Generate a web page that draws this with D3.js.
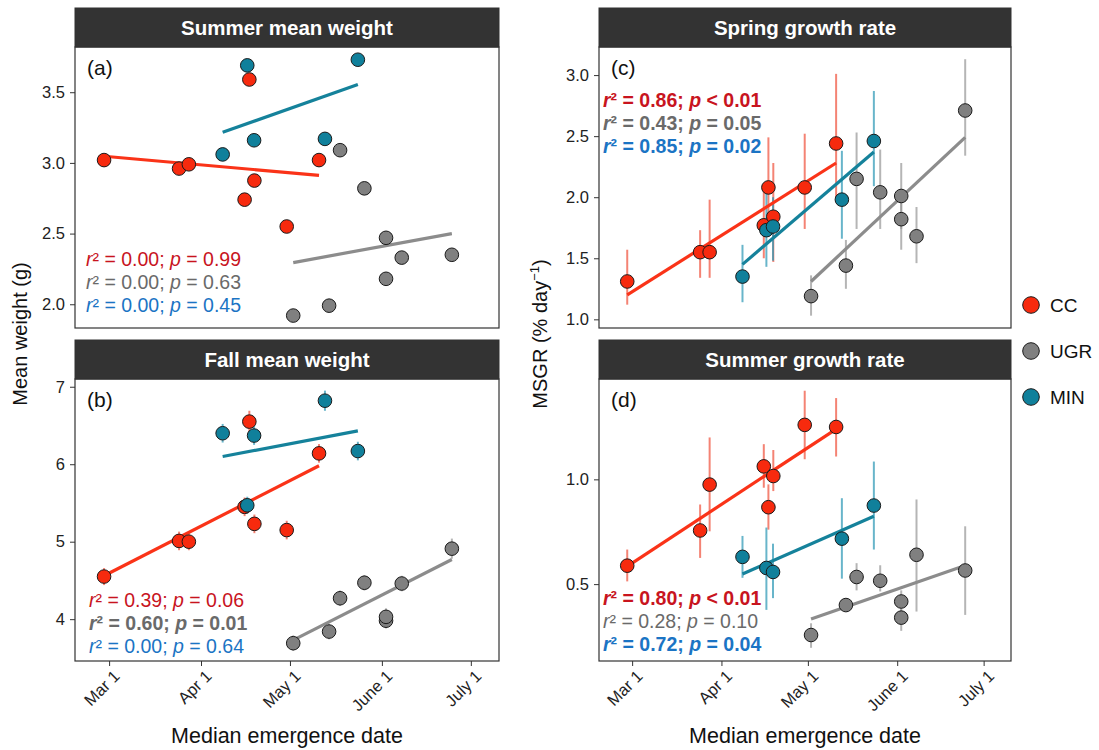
<!DOCTYPE html>
<html>
<head>
<meta charset="utf-8">
<script src="https://cdn.jsdelivr.net/npm/d3@7"></script>
<style>
  body { margin: 0; background: #fff; }
  text { font-family: "Liberation Sans", Arial, sans-serif; }
</style>
</head>
<body>
<svg id="chart" width="1099" height="750"></svg>
<script>
// Median emergence date, as day of year (Mar 1 = 60)
const ccDates  = [58.3, 83.6, 86.9, 105.7, 107.3, 109.0, 119.9, 130.8];
const ugrDates = [122.1, 134.2, 137.9, 146.1, 153.4, 153.4, 158.7, 175.6];
const minDates = [98.3, 106.6, 108.9, 132.8, 143.9];

const dateTicks  = [60, 91, 121, 152, 182];
const dateLabels = ["Mar 1", "Apr 1", "May 1", "June 1", "July 1"];

// (a) summer mean weight
const ccSummerWt  = [3.02, 2.96, 2.99, 2.74, 3.59, 2.875, 2.55, 3.02];
const ugrSummerWt = [1.92, 1.99, 3.09, 2.82, 2.47, 2.18, 2.33, 2.35];
const minSummerWt = [3.06, 3.69, 3.16, 3.17, 3.73];

// (b) fall mean weight, with +/- error
const ccFallWt   = [4.55, 5.01, 5.00, 5.45, 6.55, 5.23, 5.15, 6.14];
const ugrFallWt  = [3.69, 3.84, 4.27, 4.47, 3.98, 4.03, 4.46, 4.91];
const minFallWt  = [6.40, 5.47, 6.37, 6.82, 6.17];
const ccFallErr  = [0.11, 0.12, 0.11, 0.12, 0.14, 0.12, 0.12, 0.12];
const ugrFallErr = [0.10, 0.10, 0.10, 0.10, 0.10, 0.11, 0.10, 0.13];
const minFallErr = [0.12, 0.11, 0.12, 0.13, 0.12];

// (c) spring growth rate
const ccSpring   = [1.31, 1.55, 1.55, 1.77, 2.08, 1.84, 2.08, 2.44];
const ccSpringLo = [1.12, 1.34, 1.34, 1.50, 1.68, 1.47, 1.74, 2.00];
const ccSpringHi = [1.57, 1.73, 1.98, 2.07, 2.49, 2.28, 2.52, 3.01];
const ugrSpring   = [1.19, 1.44, 2.15, 2.04, 2.01, 1.82, 1.68, 2.71];
const ugrSpringLo = [1.03, 1.25, 1.74, 1.74, 1.74, 1.57, 1.46, 2.34];
const ugrSpringHi = [1.36, 1.65, 2.53, 2.39, 2.28, 1.98, 1.92, 3.13];
const minSpring   = [1.35, 1.73, 1.76, 1.98, 2.46];
const minSpringLo = [1.14, 1.43, 1.48, 1.66, 2.09];
const minSpringHi = [1.61, 2.04, 2.00, 2.38, 2.87];

// (d) summer growth rate
const ccSummer   = [0.588, 0.756, 0.975, 1.062, 0.867, 1.016, 1.26, 1.25];
const ccSummerLo = [0.513, 0.625, 0.752, 0.960, 0.760, 0.944, 1.096, 1.109];
const ccSummerHi = [0.665, 0.880, 1.200, 1.168, 0.976, 1.140, 1.423, 1.388];
const ugrSummer   = [0.257, 0.40, 0.534, 0.516, 0.417, 0.34, 0.64, 0.565];
const ugrSummerLo = [0.196, 0.37, 0.470, 0.465, 0.370, 0.277, 0.369, 0.353];
const ugrSummerHi = [0.313, 0.43, 0.600, 0.590, 0.470, 0.380, 0.904, 0.776];
const minSummer   = [0.63, 0.577, 0.558, 0.717, 0.875];
const minSummerLo = [0.53, 0.377, 0.433, 0.526, 0.665];
const minSummerHi = [0.73, 0.770, 0.693, 0.910, 1.085];

// fitted line values at first and last date of each site
const fitA = { CC: [3.047, 2.912], UGR: [2.295, 2.50], MIN: [3.217, 3.554] };
const fitB = { CC: [4.56, 5.98],   UGR: [3.73, 4.77],  MIN: [6.10, 6.43] };
const fitC = { CC: [1.20, 2.28],   UGR: [1.31, 2.49],  MIN: [1.45, 2.37] };
const fitD = { CC: [0.585, 1.24],  UGR: [0.334, 0.589], MIN: [0.548, 0.824] };

// r2, p and whether the line is bold
const statsA = [["0.00", "= 0.99", false], ["0.00", "= 0.63", false], ["0.00", "= 0.45", false]];
const statsB = [["0.39", "= 0.06", false], ["0.60", "= 0.01", true],  ["0.00", "= 0.64", false]];
const statsC = [["0.86", "< 0.01", true],  ["0.43", "= 0.05", true],  ["0.85", "= 0.02", true]];
const statsD = [["0.80", "< 0.01", true],  ["0.28", "= 0.10", false], ["0.72", "= 0.04", true]];

const sites = ["CC", "UGR", "MIN"];
const fillCol = { CC: "#f72a0e", UGR: "#808080", MIN: "#10809b" };
const lineCol = { CC: "#fa3318", UGR: "#8c8c8c", MIN: "#15829b" };
const barCol  = { CC: "rgba(240,90,70,0.75)", UGR: "rgba(150,150,150,0.7)", MIN: "rgba(40,150,180,0.7)" };
const statCol = { CC: "#c8141e", UGR: "#6a6a6a", MIN: "#1b74c4" };

const svg = d3.select("#chart");
const xDomain = [48.5, 191.5];
const stripH = 39;

const mk = (dates, vals, lo, hi) => dates.map((d, i) => ({ d, v: vals[i], lo: lo ? lo[i] : null, hi: hi ? hi[i] : null }));
const pm = (vals, err) => [vals.map((v, i) => v - err[i]), vals.map((v, i) => v + err[i])];

const panels = [
  { tag: "(a)", title: "Summer mean weight", x0: 75, x1: 499, top: 8, bottom: 328, yDom: [1.832, 3.82],
    ticks: [2.0, 2.5, 3.0, 3.5], fmt: ".1f", fit: fitA, stats: statsA, statY: 266, statX: 86, xAxis: false,
    data: { CC: mk(ccDates, ccSummerWt), UGR: mk(ugrDates, ugrSummerWt), MIN: mk(minDates, minSummerWt) } },
  { tag: "(b)", title: "Fall mean weight", x0: 75, x1: 499, top: 340, bottom: 661, yDom: [3.46, 7.1],
    ticks: [4, 5, 6, 7], fmt: "d", fit: fitB, stats: statsB, statY: 607, statX: 89, xAxis: true,
    data: { CC: mk(ccDates, ccFallWt, ...pm(ccFallWt, ccFallErr)),
            UGR: mk(ugrDates, ugrFallWt, ...pm(ugrFallWt, ugrFallErr)),
            MIN: mk(minDates, minFallWt, ...pm(minFallWt, minFallErr)) } },
  { tag: "(c)", title: "Spring growth rate", x0: 599, x1: 1011, top: 8, bottom: 328, yDom: [0.929, 3.23],
    ticks: [1.0, 1.5, 2.0, 2.5, 3.0], fmt: ".1f", fit: fitC, stats: statsC, statY: 107, statX: 603, xAxis: false,
    data: { CC: mk(ccDates, ccSpring, ccSpringLo, ccSpringHi),
            UGR: mk(ugrDates, ugrSpring, ugrSpringLo, ugrSpringHi),
            MIN: mk(minDates, minSpring, minSpringLo, minSpringHi) } },
  { tag: "(d)", title: "Summer growth rate", x0: 599, x1: 1011, top: 340, bottom: 661, yDom: [0.133, 1.479],
    ticks: [0.5, 1.0], fmt: ".1f", fit: fitD, stats: statsD, statY: 605, statX: 603, xAxis: true,
    data: { CC: mk(ccDates, ccSummer, ccSummerLo, ccSummerHi),
            UGR: mk(ugrDates, ugrSummer, ugrSummerLo, ugrSummerHi),
            MIN: mk(minDates, minSummer, minSummerLo, minSummerHi) } }
];

panels.forEach(p => {
  const g = svg.append("g");
  const plotTop = p.top + stripH;
  const x = d3.scaleLinear().domain(xDomain).range([p.x0, p.x1]);
  const y = d3.scaleLinear().domain(p.yDom).range([p.bottom, plotTop]);

  // strip
  g.append("rect").attr("x", p.x0).attr("y", p.top).attr("width", p.x1 - p.x0).attr("height", stripH)
    .attr("fill", "#333333").attr("stroke", "#333333");
  g.append("text").attr("x", (p.x0 + p.x1) / 2).attr("y", p.top + stripH / 2).attr("dy", "0.36em")
    .attr("text-anchor", "middle").attr("fill", "#fff").attr("font-weight", "bold").attr("font-size", 20.5)
    .text(p.title);

  // y axis
  const ya = g.append("g").attr("transform", `translate(${p.x0},0)`)
    .call(d3.axisLeft(y).tickValues(p.ticks).tickFormat(d3.format(p.fmt)).tickSize(5).tickPadding(5));
  ya.select(".domain").remove();
  ya.selectAll("line").attr("stroke", "#333");
  ya.selectAll("text").attr("font-size", 16.5).attr("fill", "#222").style("font-family", "Liberation Sans, Arial, sans-serif");

  // x axis
  if (p.xAxis) {
    const xa = g.append("g").attr("transform", `translate(0,${p.bottom})`)
      .call(d3.axisBottom(x).tickValues(dateTicks).tickFormat((d, i) => dateLabels[i]).tickSize(5));
    xa.select(".domain").remove();
    xa.selectAll("line").attr("stroke", "#333");
    xa.selectAll("text").attr("font-size", 16.5).attr("fill", "#222")
      .style("font-family", "Liberation Sans, Arial, sans-serif")
      .attr("text-anchor", "end").attr("x", 0).attr("y", 0).attr("dy", "0.7em")
      .attr("transform", "translate(3,8) rotate(-45)");
  }

  // error bars
  sites.forEach(s => {
    g.selectAll(null).data(p.data[s].filter(d => d.lo != null)).enter().append("line")
      .attr("x1", d => x(d.d)).attr("x2", d => x(d.d))
      .attr("y1", d => y(d.lo)).attr("y2", d => y(d.hi))
      .attr("stroke", barCol[s]).attr("stroke-width", 2);
  });

  // fitted lines
  sites.forEach(s => {
    const ds = p.data[s];
    const ends = [{ d: ds[0].d, v: p.fit[s][0] }, { d: ds[ds.length - 1].d, v: p.fit[s][1] }];
    g.append("path").datum(ends)
      .attr("d", d3.line().x(d => x(d.d)).y(d => y(d.v)))
      .attr("stroke", lineCol[s]).attr("stroke-width", 3.2).attr("fill", "none");
  });

  // points
  sites.forEach(s => {
    g.selectAll(null).data(p.data[s]).enter().append("circle")
      .attr("cx", d => x(d.d)).attr("cy", d => y(d.v)).attr("r", 6.8)
      .attr("fill", fillCol[s]).attr("stroke", "#1a1a1a").attr("stroke-width", 1);
  });

  // panel border
  g.append("rect").attr("x", p.x0).attr("y", plotTop).attr("width", p.x1 - p.x0).attr("height", p.bottom - plotTop)
    .attr("fill", "none").attr("stroke", "#333").attr("stroke-width", 1.2);

  // tag
  g.append("text").attr("x", p.x0 + 12).attr("y", plotTop + 28).attr("font-size", 21).attr("fill", "#111").text(p.tag);

  // stats
  p.stats.forEach((st, i) => {
    const s = sites[i];
    const t = g.append("text").attr("x", p.statX).attr("y", p.statY + i * 23)
      .attr("font-size", 19.5).attr("fill", statCol[s]).attr("font-weight", st[2] ? "bold" : "normal");
    t.append("tspan").attr("font-style", "italic").text("r");
    t.append("tspan").text("\u00B2 = " + st[0] + "; ");
    t.append("tspan").attr("font-style", "italic").text("p");
    t.append("tspan").text(" " + st[1]);
  });
});

// axis titles
svg.append("text").attr("transform", "translate(27,334) rotate(-90)").attr("text-anchor", "middle")
  .attr("font-size", 20).attr("fill", "#111").text("Mean weight (g)");
const msgr = svg.append("text").attr("transform", "translate(547,334) rotate(-90)").attr("text-anchor", "middle")
  .attr("font-size", 20).attr("fill", "#111");
msgr.append("tspan").text("MSGR (% day");
msgr.append("tspan").attr("font-size", 13).attr("dy", -8).text("\u22121");
msgr.append("tspan").attr("dy", 8).text(")");

svg.append("text").attr("x", 287).attr("y", 743).attr("text-anchor", "middle").attr("font-size", 21.5)
  .attr("fill", "#111").text("Median emergence date");
svg.append("text").attr("x", 805).attr("y", 743).attr("text-anchor", "middle").attr("font-size", 21.5)
  .attr("fill", "#111").text("Median emergence date");

// legend
const legY = d3.scalePoint().domain(sites).range([305, 397]);
const leg = svg.append("g");
leg.selectAll("circle").data(sites).enter().append("circle")
  .attr("cx", 1031).attr("cy", d => legY(d)).attr("r", 8.3)
  .attr("fill", d => fillCol[d]).attr("stroke", "#1a1a1a").attr("stroke-width", 1);
leg.selectAll("text").data(sites).enter().append("text")
  .attr("x", 1050).attr("y", d => legY(d)).attr("dy", "0.36em").attr("font-size", 19).attr("fill", "#111")
  .text(d => d);
</script>
</body>
</html>
